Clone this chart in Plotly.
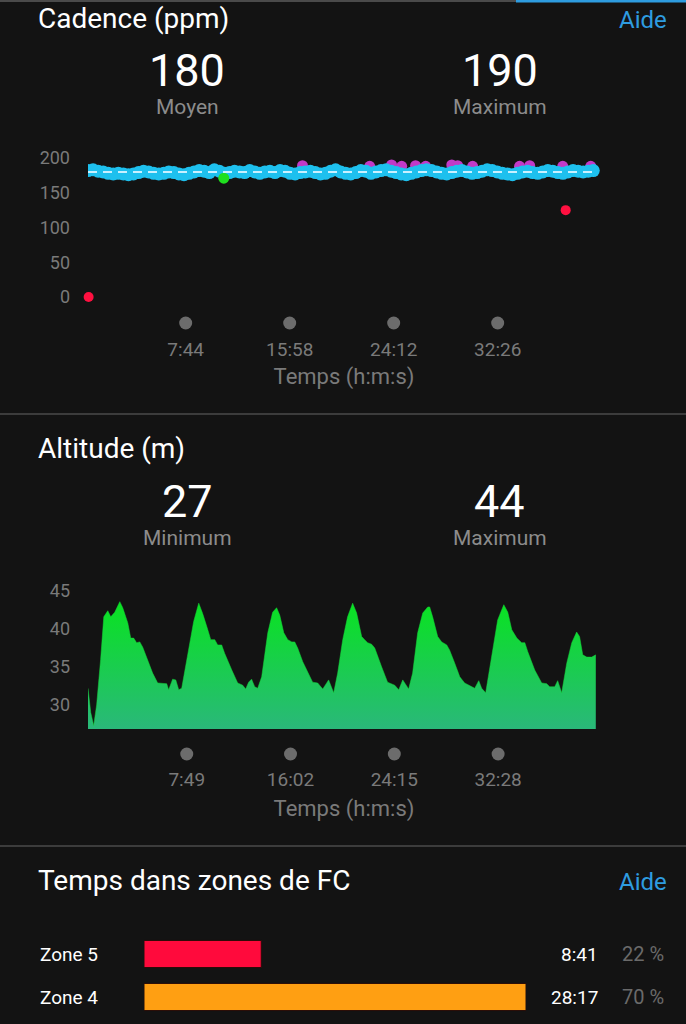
import plotly.graph_objects as go

W, H = 686, 1024
BG = "#131313"
GRAY_TXT = "#8c8c8c"
TICK_TXT = "#7a7a7a"
DOT = "#6c6c6c"
FONT = "Roboto"

# ---------------- data ----------------
cad_avg = 180
cad_max = 190
cad_step = 24  # sampling interval (s)
cad_cyan = [
    182, 183, 181, 180, 178, 177, 178, 177, 176, 177,
    179, 181, 180, 178, 177, 178, 180, 179, 177, 176,
    178, 180, 182, 181, 179, 183, 181, 178, 179, 181,
    180, 179, 182, 180, 178, 180, 181, 179, 182, 181,
    178, 177, 179, 180, 181, 179, 177, 178, 181, 183,
    180, 178, 177, 179, 182, 181, 178, 180, 182, 183,
    181, 179, 177, 176, 178, 180, 182, 183, 182, 180,
    178, 177, 179, 181, 182, 180, 178, 179, 181, 183,
    182, 180, 178, 177, 176, 178, 180, 181, 179, 178,
    180, 182, 181, 179, 178, 180, 182, 181, 180, 181, 182]
cad_time = [i * cad_step for i in range(len(cad_cyan))]
cad_purple_t = [1019, 1338, 1442, 1490, 1556, 1604, 1728, 1756, 1827, 2050, 2098, 2255, 2388]
cad_purple_v = [189, 188, 190, 188, 189, 188, 190, 189, 188, 188, 189, 188, 188]
cad_green_t = [645]
cad_green_v = [171]
cad_red_t = [3, 2269]
cad_red_v = [0, 125]
cad_tick_vals = [464, 958, 1452, 1946]
cad_tick_text = ["7:44", "15:58", "24:12", "32:26"]
cad_y_ticks = [0, 50, 100, 150, 200]

alt_min = 27
alt_max = 44
alt_time = [0, 13, 27, 41, 60, 75, 94, 108, 127, 151, 165, 189, 203, 217, 231, 246, 260, 284,
            307, 331, 355, 374, 383, 402, 417, 431, 445, 474, 502, 526, 545, 569, 583, 602,
            616, 635, 649, 683, 711, 735, 749, 763, 777, 792, 806, 825, 839, 854, 877, 896,
            911, 930, 949, 968, 982, 996, 1020, 1044, 1067, 1091, 1115, 1143, 1167, 1186,
            1210, 1233, 1257, 1276, 1300, 1314, 1328, 1347, 1362, 1395, 1423, 1457, 1476,
            1495, 1523, 1542, 1566, 1590, 1614, 1623, 1637, 1661, 1680, 1704, 1718, 1742,
            1766, 1789, 1813, 1837, 1856, 1870, 1889, 1918, 1946, 1975, 1994, 2013, 2037,
            2060, 2075, 2089, 2122, 2155, 2179, 2193, 2217, 2231, 2250, 2274, 2298, 2321,
            2335, 2350, 2369, 2393, 2412]
alt_vals = [32.2, 29.0, 27.3, 30.0, 36.0, 41.6, 42.4, 41.6, 42.2, 43.6, 42.8, 40.8, 38.8, 38.8,
            38.2, 38.3, 37.6, 35.9, 34.2, 32.9, 32.8, 32.8, 32.0, 33.4, 33.3, 32.0, 32.2, 36.5,
            41.0, 43.4, 42.0, 39.9, 38.6, 38.6, 37.9, 37.9, 36.8, 34.6, 32.9, 32.6, 32.1, 33.0,
            33.4, 32.4, 32.2, 33.7, 36.5, 39.5, 42.2, 42.8, 41.8, 39.5, 38.6, 38.3, 38.3, 37.5,
            35.7, 34.2, 33.0, 32.9, 32.1, 33.3, 31.6, 34.2, 38.6, 41.6, 43.4, 42.1, 39.0, 38.6,
            38.2, 38.0, 37.5, 35.0, 33.0, 32.6, 32.0, 33.3, 32.1, 34.2, 39.5, 42.1, 42.9, 42.9,
            41.6, 39.0, 38.3, 37.9, 37.2, 35.5, 33.7, 32.9, 32.6, 32.2, 33.2, 32.2, 31.6, 36.3,
            41.2, 43.2, 42.2, 39.9, 38.8, 38.2, 38.2, 37.0, 34.6, 32.9, 32.8, 32.4, 32.4, 33.2,
            31.6, 35.5, 38.2, 39.6, 39.0, 36.6, 36.3, 36.3, 36.6]
alt_tick_vals = [469, 962, 1455, 1948]
alt_tick_text = ["7:49", "16:02", "24:15", "32:28"]
alt_y_ticks = [30, 35, 40, 45]

zone_names = ["Zone 5", "Zone 4"]
zone_seconds = [521, 1697]
zone_times = ["8:41", "28:17"]
zone_pcts = [22, 70]
zone_colors = ["#ff0a3c", "#ff9f12"]

# ---------------- helpers ----------------
def px_x(p):
    return p / W

def px_y(p):
    return 1 - p / H

X0, X1 = 88, 600
T_RANGE = [0, (X1 - X0) * 4.75]

fig = go.Figure()

# cadence (purple drawn first so the blue band partly covers it)
fig.add_trace(go.Scatter(x=cad_purple_t, y=cad_purple_v, mode="markers",
                         marker=dict(size=11, color="#c23ac8"), xaxis="x", yaxis="y"))
fig.add_trace(go.Scatter(x=cad_time, y=cad_cyan, mode="markers",
                         marker=dict(size=13, color="#1ec0ee"), xaxis="x", yaxis="y"))
fig.add_trace(go.Scatter(x=cad_green_t, y=cad_green_v, mode="markers",
                         marker=dict(size=11, color="#1fe01f"), xaxis="x", yaxis="y"))
fig.add_trace(go.Scatter(x=cad_red_t, y=cad_red_v, mode="markers",
                         marker=dict(size=10, color="#ff1040"), xaxis="x", yaxis="y",
                         cliponaxis=False))
fig.add_trace(go.Scatter(x=[cad_time[0], cad_time[-1]], y=[cad_avg, cad_avg], mode="lines",
                         line=dict(color="#c8f0ff", width=2, dash="9px,6px"),
                         xaxis="x", yaxis="y"))
# tick dots (row of markers on a helper axis below the time axis)
fig.add_trace(go.Scatter(x=cad_tick_vals, y=[0] * len(cad_tick_vals), mode="markers",
                         marker=dict(size=13, color=DOT), cliponaxis=False,
                         xaxis="x", yaxis="y4"))

# altitude
ALT_RANGE = [26.84, 46.5]
fig.add_trace(go.Scatter(x=alt_time, y=alt_vals, mode="lines", fill="tozeroy",
                         line=dict(color="#14d838", width=0.5),
                         fillgradient=dict(type="vertical",
                                           colorscale=[[0, "#2ab87a"], [1, "#08e41e"]],
                                           start=26.8, stop=44),
                         xaxis="x2", yaxis="y2"))
fig.add_trace(go.Scatter(x=alt_tick_vals, y=[0] * len(alt_tick_vals), mode="markers",
                         marker=dict(size=13, color=DOT), cliponaxis=False,
                         xaxis="x2", yaxis="y5"))

# zones
fig.add_trace(go.Bar(x=zone_seconds, y=zone_names, orientation="h", width=0.63,
                     marker=dict(color=zone_colors, line=dict(color="#2a0c08", width=1)),
                     xaxis="x3", yaxis="y3"))

tick_font = dict(family=FONT, size=19, color=TICK_TXT)
ytick_font = dict(family=FONT, size=18, color=TICK_TXT)
title_font = dict(family=FONT, size=22, color=TICK_TXT)

fig.update_layout(
    width=W, height=H, margin=dict(l=0, r=0, t=0, b=0),
    paper_bgcolor=BG, plot_bgcolor=BG, showlegend=False, hovermode=False,
    font=dict(family=FONT, color="white"),
    xaxis=dict(domain=[px_x(X0), px_x(X1)], range=T_RANGE, showgrid=False, zeroline=False,
               showline=False, tickvals=cad_tick_vals, ticktext=cad_tick_text,
               tickfont=tick_font, ticks="", ticklabelstandoff=25,
               title=dict(text="Temps (h:m:s)", font=title_font, standoff=8),
               anchor="y"),
    yaxis=dict(domain=[px_y(310.9), px_y(147.6)], range=[-20, 215], showgrid=False,
               zeroline=False, showline=False, tickvals=cad_y_ticks, tickfont=ytick_font,
               ticks="", ticklabelstandoff=17, anchor="x"),
    yaxis4=dict(domain=[px_y(333), px_y(313)], range=[-1, 1], visible=False, anchor="x"),
    xaxis2=dict(domain=[px_x(X0), px_x(X1)], range=T_RANGE, showgrid=False, zeroline=False,
                showline=False, tickvals=alt_tick_vals, ticktext=alt_tick_text,
                tickfont=tick_font, ticks="", ticklabelstandoff=37,
                title=dict(text="Temps (h:m:s)", font=title_font, standoff=10),
                anchor="y2"),
    yaxis2=dict(domain=[px_y(729), px_y(579.6)], range=ALT_RANGE, showgrid=False,
                zeroline=False, showline=False, tickvals=alt_y_ticks, tickfont=ytick_font,
                ticks="", ticklabelstandoff=17, anchor="x2"),
    yaxis5=dict(domain=[px_y(764), px_y(744)], range=[-1, 1], visible=False, anchor="x2"),
    xaxis3=dict(domain=[px_x(144), px_x(526)], range=[0, max(zone_seconds)], visible=False,
                anchor="y3"),
    yaxis3=dict(domain=[px_y(1018.5), px_y(932.5)], range=[1.5, -0.5], showgrid=False,
                zeroline=False, showline=False, ticks="", ticklabelstandoff=45,
                tickfont=dict(family=FONT, size=19, color="white"), anchor="x3"),
)

ann = []

def txt(text, x, y, size, color="white", xanchor="left", height=None):
    a = dict(text=text, x=px_x(x), y=px_y(y), xref="paper", yref="paper",
             xanchor=xanchor, yanchor="middle", showarrow=False,
             font=dict(family=FONT, size=size, color=color))
    if height is not None:
        a["height"] = height
    ann.append(a)

# Cadence header
txt("Cadence (ppm)", 36, 18, 28)
txt("Aide", 669, 20, 24, "#2e9ce0", "right")
txt(str(cad_avg), 187, 70, 45, xanchor="center", height=42)
txt("Moyen", 188, 107, 21, GRAY_TXT, "center", height=22)
txt(str(cad_max), 500, 70, 45, xanchor="center", height=42)
txt("Maximum", 500, 107, 21, GRAY_TXT, "center", height=22)

# Altitude header
txt("Altitude (m)", 36, 448, 28)
txt(str(alt_min), 187, 501, 45, xanchor="center", height=42)
txt("Minimum", 188, 538, 21, GRAY_TXT, "center", height=22)
txt(str(alt_max), 500, 501, 45, xanchor="center", height=42)
txt("Maximum", 500, 538, 21, GRAY_TXT, "center", height=22)

# Zones header
txt("Temps dans zones de FC", 36, 880, 28)
txt("Aide", 669, 882, 24, "#2e9ce0", "right")

for name, t, p in zip(zone_names, zone_times, zone_pcts):
    ann.append(dict(text=t, x=px_x(600), y=name, xref="paper", yref="y3", xanchor="right",
                    yanchor="middle", showarrow=False,
                    font=dict(family=FONT, size=19, color="white")))
    ann.append(dict(text=f"{p} %", x=px_x(666), y=name, xref="paper", yref="y3",
                    xanchor="right", yanchor="middle", showarrow=False,
                    font=dict(family=FONT, size=20, color="#6a6a6a")))

fig.update_layout(annotations=ann)

shapes = [
    dict(type="line", xref="paper", yref="paper", x0=0, x1=px_x(516), y0=px_y(1), y1=px_y(1),
         line=dict(color="#4a4a4a", width=2)),
    dict(type="line", xref="paper", yref="paper", x0=px_x(516), x1=1, y0=px_y(1), y1=px_y(1),
         line=dict(color="#2e9ce0", width=3)),
    dict(type="line", xref="paper", yref="paper", x0=0, x1=1, y0=px_y(414), y1=px_y(414),
         line=dict(color="#3c3c3c", width=2)),
    dict(type="line", xref="paper", yref="paper", x0=0, x1=1, y0=px_y(846), y1=px_y(846),
         line=dict(color="#3c3c3c", width=2)),
]
fig.update_layout(shapes=shapes)

fig.write_html("out.html", config={"displayModeBar": False},
               post_script="document.body.style.margin='0';"
                           "document.body.style.background='" + BG + "';")
